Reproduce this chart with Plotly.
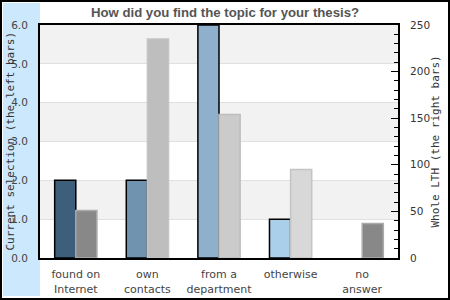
import plotly.graph_objects as go

categories = ["found on<br>Internet", "own<br>contacts", "from a<br>department", "otherwise", "no<br>answer"]
current_selection = [2, 2, 6, 1, None]
whole_lth = [51, 235, 154, 95, 37]
left_colors = ["#3e5f7c", "#7093b0", "#8eb0cc", "#aacfea", "#aacfea"]
right_colors = ["#888888", "#bebebe", "#cbcbcb", "#d8d8d8", "#888888"]
right_line_colors = ["#aaaaaa", "#c4c4c4", "#bdbdbd", "#c4c4c4", "#aaaaaa"]
left_ticks = [0, 1, 2, 3, 4, 5, 6]
right_ticks = [0, 50, 100, 150, 200, 250]
left_title = "Current selection (the left bars)"
right_title = "Whole LTH (the right bars)"

W, H = 450, 300
L, R, T, B = 40, 52, 25, 42
pw, ph = W - L - R, H - T - B

def px_x(p):
    return (p - L) / pw

def px_y(p):
    return (H - B - p) / ph

fig = go.Figure()
fig.add_trace(go.Bar(
    x=categories, y=current_selection, yaxis="y", offsetgroup="1",
    marker=dict(color=left_colors, line=dict(color="black", width=1.5)),
    showlegend=False, hoverinfo="skip"))
fig.add_trace(go.Bar(
    x=categories, y=whole_lth, yaxis="y2", offsetgroup="2",
    marker=dict(color=right_colors, line=dict(color=right_line_colors, width=1.5)),
    showlegend=False, hoverinfo="skip"))

shapes = []
# left light-blue panel
shapes.append(dict(type="rect", xref="paper", yref="paper",
                   x0=px_x(3), x1=px_x(40), y0=px_y(296), y1=px_y(3),
                   fillcolor="#cce8fc", line=dict(width=0), layer="below"))
# outer border
shapes.append(dict(type="rect", xref="paper", yref="paper",
                   x0=px_x(1), x1=px_x(449), y0=px_y(299), y1=px_y(1),
                   fillcolor="rgba(0,0,0,0)", line=dict(color="black", width=2), layer="above"))
# alternating bands
for lo in [1, 3, 5]:
    shapes.append(dict(type="rect", xref="paper", yref="y",
                       x0=0, x1=1, y0=lo, y1=lo + 1,
                       fillcolor="#f2f2f2", line=dict(width=0), layer="below"))

title_font = dict(family="DejaVu Sans Mono", size=11, color="#333333")
annotations = [
    dict(text=left_title, xref="paper", yref="paper", x=px_x(10), y=0.5,
         xanchor="center", yanchor="middle", textangle=-90, showarrow=False, font=title_font),
    dict(text=right_title, xref="paper", yref="paper", x=px_x(435), y=0.5,
         xanchor="center", yanchor="middle", textangle=-90, showarrow=False, font=title_font),
]

fig.update_layout(
    width=W, height=H,
    margin=dict(l=L, r=R, t=T, b=B),
    paper_bgcolor="white", plot_bgcolor="white",
    barmode="group", bargap=0.41, bargroupgap=0,
    title=dict(text="<b>How did you find the topic for your thesis?</b>",
               x=0.5, xanchor="center", xref="container", y=1 - 12 / H, yanchor="middle",
               yref="container",
               font=dict(family="Liberation Sans, Arial, sans-serif", size=13.2, color="#555555")),
    font=dict(family="DejaVu Sans", size=11, color="#444444"),
    xaxis=dict(showline=True, linecolor="black", linewidth=2, mirror=True,
               ticks="", ticklabelstandoff=5,
               tickfont=dict(family="DejaVu Sans", size=11, color="#444444"),
               showgrid=False, automargin=False),
    yaxis=dict(range=[0, 6], tickvals=left_ticks, tickformat=".1f",
               showline=True, linecolor="black", linewidth=2, mirror=True,
               showgrid=True, gridcolor="#e0e0e0", gridwidth=1,
               ticks="", ticklabelstandoff=8, automargin=False,
               tickfont=dict(family="DejaVu Sans", size=10.5, color="#444444"),
               zeroline=False),
    yaxis2=dict(range=[0, 250], tickvals=right_ticks, overlaying="y", side="right",
                showline=True, linecolor="black", linewidth=2,
                showgrid=False, zeroline=False, automargin=False,
                ticks="inside", ticklen=7, tickcolor="black", tickwidth=1,
                ticklabelstandoff=8,
                minor=dict(dtick=10, ticks="inside", ticklen=4, tickcolor="black", tickwidth=1),
                tickfont=dict(family="DejaVu Sans", size=10.5, color="#333333")),
    shapes=shapes,
    annotations=annotations,
)

fig.write_html("out.html")
